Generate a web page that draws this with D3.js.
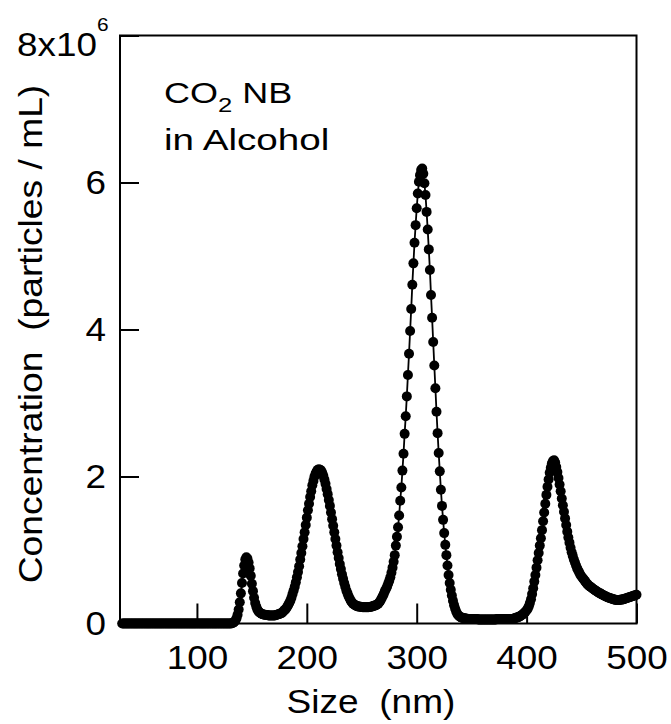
<!DOCTYPE html>
<html>
<head>
<meta charset="utf-8">
<script src="https://cdn.jsdelivr.net/npm/d3@7"></script>
<style>
  html, body { margin: 0; padding: 0; background: #fff; }
  svg { display: block; font-family: "Liberation Sans", Arial, Helvetica, sans-serif; }
  text { white-space: pre; }
</style>
</head>
<body>
<svg id="chart" width="671" height="724"></svg>
<script>
// Size distribution of CO2 nanobubbles in alcohol, 1 nm bins.
// Concentration is given in units of 10^6 particles / mL.
const sizeStart = 32;   // nm, first bin
const concentration = [
  // 32–39
  0, 0, 0, 0, 0, 0, 0, 0,
  // 40–129
  0, 0, 0, 0, 0, 0, 0, 0, 0, 0,
  0, 0, 0, 0, 0, 0, 0, 0, 0, 0,
  0, 0, 0, 0, 0, 0, 0, 0, 0, 0,
  0, 0, 0, 0, 0, 0, 0, 0, 0, 0,
  0, 0, 0, 0, 0, 0, 0, 0, 0, 0,
  0, 0, 0, 0, 0, 0, 0, 0, 0, 0,
  0, 0, 0, 0, 0, 0, 0, 0, 0, 0,
  0, 0, 0, 0, 0, 0, 0, 0, 0, 0,
  0, 0, 0, 0, 0, 0, 0, 0, 0, 0,
  // 130–139
  0, 0, 0.005, 0.01, 0.02, 0.04, 0.07, 0.12, 0.19, 0.29,
  // 140–149
  0.41, 0.55, 0.68, 0.79, 0.87, 0.90, 0.88, 0.83, 0.75, 0.65,
  // 150–159
  0.54, 0.44, 0.35, 0.28, 0.23, 0.19, 0.165, 0.15, 0.14, 0.13,
  // 160–169
  0.125, 0.12, 0.12, 0.115, 0.115, 0.11, 0.11, 0.11, 0.11, 0.11,
  // 170–179
  0.11, 0.11, 0.115, 0.12, 0.125, 0.13, 0.135, 0.14, 0.155, 0.17,
  // 180–189
  0.185, 0.20, 0.225, 0.25, 0.28, 0.31, 0.35, 0.40, 0.45, 0.50,
  // 190–199
  0.56, 0.63, 0.70, 0.78, 0.87, 0.96, 1.05, 1.15, 1.24, 1.34,
  // 200–209
  1.44, 1.54, 1.63, 1.72, 1.80, 1.88, 1.94, 2.00, 2.04, 2.07,
  // 210–219
  2.09, 2.10, 2.09, 2.08, 2.05, 2.01, 1.96, 1.90, 1.83, 1.76,
  // 220–229
  1.68, 1.60, 1.51, 1.42, 1.33, 1.24, 1.15, 1.06, 0.97, 0.89,
  // 230–239
  0.81, 0.74, 0.67, 0.61, 0.55, 0.50, 0.45, 0.41, 0.37, 0.34,
  // 240–249
  0.31, 0.29, 0.27, 0.26, 0.25, 0.24, 0.235, 0.23, 0.23, 0.225,
  // 250–259
  0.225, 0.22, 0.22, 0.22, 0.22, 0.22, 0.22, 0.225, 0.225, 0.23,
  // 260–269
  0.235, 0.24, 0.245, 0.25, 0.26, 0.27, 0.29, 0.31, 0.34, 0.37,
  // 270–279
  0.40, 0.44, 0.47, 0.50, 0.54, 0.58, 0.63, 0.69, 0.76, 0.84,
  // 280–289
  0.93, 1.06, 1.18, 1.31, 1.47, 1.67, 1.85, 2.08, 2.31, 2.58,
  // 290–299
  2.82, 3.09, 3.38, 3.67, 3.98, 4.28, 4.61, 4.90, 5.18, 5.42,
  // 300–309
  5.65, 5.85, 6.01, 6.10, 6.17, 6.19, 6.12, 5.99, 5.83, 5.60,
  // 310–319
  5.36, 5.09, 4.81, 4.47, 4.16, 3.83, 3.51, 3.20, 2.88, 2.59,
  // 320–329
  2.32, 2.07, 1.82, 1.60, 1.41, 1.23, 1.07, 0.93, 0.79, 0.66,
  // 330–339
  0.55, 0.46, 0.38, 0.31, 0.25, 0.20, 0.16, 0.13, 0.11, 0.095,
  // 340–349
  0.085, 0.08, 0.075, 0.07, 0.07, 0.065, 0.065, 0.06, 0.06, 0.06,
  // 350–359
  0.06, 0.06, 0.06, 0.06, 0.06, 0.06, 0.055, 0.055, 0.055, 0.055,
  // 360–369
  0.055, 0.055, 0.055, 0.055, 0.055, 0.055, 0.055, 0.055, 0.055, 0.055,
  // 370–379
  0.055, 0.055, 0.055, 0.06, 0.06, 0.06, 0.06, 0.06, 0.06, 0.06,
  // 380–389
  0.06, 0.06, 0.06, 0.06, 0.06, 0.06, 0.06, 0.06, 0.065, 0.07,
  // 390–399
  0.075, 0.08, 0.085, 0.09, 0.10, 0.11, 0.12, 0.13, 0.145, 0.16,
  // 400–409
  0.18, 0.20, 0.235, 0.28, 0.33, 0.40, 0.48, 0.57, 0.66, 0.76,
  // 410–419
  0.86, 0.96, 1.06, 1.16, 1.27, 1.39, 1.51, 1.63, 1.75, 1.86,
  // 420–429
  1.96, 2.05, 2.12, 2.18, 2.21, 2.22, 2.19, 2.13, 2.06, 1.98,
  // 430–439
  1.89, 1.80, 1.70, 1.61, 1.52, 1.43, 1.34, 1.25, 1.17, 1.10,
  // 440–449
  1.03, 0.97, 0.92, 0.87, 0.83, 0.79, 0.75, 0.72, 0.69, 0.66,
  // 450–459
  0.64, 0.62, 0.60, 0.58, 0.56, 0.54, 0.525, 0.51, 0.50, 0.49,
  // 460–469
  0.475, 0.465, 0.455, 0.445, 0.435, 0.425, 0.415, 0.41, 0.40, 0.39,
  // 470–479
  0.385, 0.375, 0.37, 0.36, 0.355, 0.35, 0.345, 0.34, 0.335, 0.33,
  // 480–489
  0.325, 0.32, 0.32, 0.32, 0.32, 0.32, 0.325, 0.325, 0.33, 0.335,
  // 490–499
  0.34, 0.345, 0.35, 0.355, 0.36, 0.365, 0.37, 0.375, 0.38, 0.385,
  // 500
  0.39
];
const sizeNm = concentration.map((_, i) => sizeStart + i);

const xDomain = [30, 500];
const yDomain = [0, 8];
const xTicks = [100, 200, 300, 400, 500];
const yTicks = [0, 2, 4, 6, 8];
const xTitle = "Size  (nm)";
const yTitle = "Concentration  (particles / mL)";
const noteLine1 = ["CO", "2", " NB"];
const noteLine2 = "in Alcohol";

// ---- layout ----
const plot = { left: 120, right: 636.5, top: 35.5, bottom: 623.5 };
const svg = d3.select("#chart");

const x = d3.scaleLinear().domain(xDomain).range([plot.left, plot.right]);
const y = d3.scaleLinear().domain(yDomain).range([plot.bottom, plot.top]);

const tickFont = 33.5;
const tickStretch = 1.1;

// frame
svg.append("rect")
  .attr("x", plot.left).attr("y", plot.top)
  .attr("width", plot.right - plot.left).attr("height", plot.bottom - plot.top)
  .attr("fill", "none").attr("stroke", "#000").attr("stroke-width", 2);

// x axis (ticks point inward)
const gx = svg.append("g")
  .attr("transform", `translate(0,${plot.bottom})`)
  .call(d3.axisBottom(x).tickValues(xTicks).tickSize(-20).tickSizeOuter(0).tickPadding(22));
gx.select(".domain").remove();
gx.selectAll(".tick line").attr("stroke", "#000").attr("stroke-width", 2);
gx.selectAll(".tick text")
  .attr("font-size", tickFont).attr("font-family", null).attr("fill", "#000")
  .attr("transform", `scale(${tickStretch},1)`);

// y axis
const yPad = 14;
const gy = svg.append("g")
  .attr("transform", `translate(${plot.left},0)`)
  .call(d3.axisLeft(y).tickValues(yTicks).tickSize(-19).tickSizeOuter(0).tickPadding(yPad)
    .tickFormat(d => d === 8 ? "8x10" : String(d)));
gy.select(".domain").remove();
gy.selectAll(".tick line").attr("stroke", "#000").attr("stroke-width", 2);
gy.selectAll(".tick text")
  .attr("font-size", tickFont).attr("font-family", null).attr("fill", "#000")
  .attr("x", -yPad / tickStretch)
  .attr("transform", `scale(${tickStretch},1)`);
// top label carries the exponent as a superscript
gy.selectAll(".tick").filter(d => d === 8).select("text")
  .attr("x", -11.5 / tickStretch)
  .attr("dy", null)
  .attr("y", 19.5)
  .append("tspan")
  .attr("dy", -24.5)
  .attr("font-size", 19)
  .text("6");

// connecting line
const pts = sizeNm.map((s, i) => ({ s, c: concentration[i] }));
svg.append("path")
  .datum(pts)
  .attr("fill", "none").attr("stroke", "#000").attr("stroke-width", 1.8)
  .attr("d", d3.line().x(d => x(d.s)).y(d => y(d.c)));

// markers
svg.append("g").selectAll("circle")
  .data(pts).join("circle")
  .attr("cx", d => x(d.s)).attr("cy", d => y(d.c))
  .attr("r", 5).attr("fill", "#000");

// axis titles
svg.append("text")
  .attr("transform", `translate(371,712.5) scale(1.09,1)`)
  .attr("text-anchor", "middle")
  .attr("font-size", 34)
  .text(xTitle);

svg.append("text")
  .attr("transform", `translate(41.5,334) rotate(-90) scale(1.095,1)`)
  .attr("text-anchor", "middle")
  .attr("font-size", 34)
  .text(yTitle);

// sample note
const n1 = svg.append("text")
  .attr("transform", `translate(164,103.3) scale(1.22,1)`)
  .attr("font-size", 29.5);
n1.append("tspan").text(noteLine1[0]);
n1.append("tspan").attr("font-size", 21).attr("dy", 8.5).text(noteLine1[1]);
n1.append("tspan").attr("dy", -8.5).text(noteLine1[2]);

svg.append("text")
  .attr("transform", `translate(164,150) scale(1.31,1)`)
  .attr("font-size", 29.5)
  .text(noteLine2);
</script>
</body>
</html>
